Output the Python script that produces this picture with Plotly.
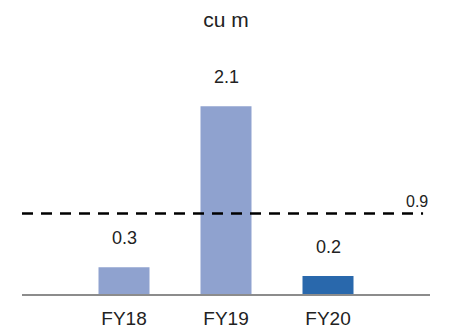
import plotly.graph_objects as go

categories = ["FY18", "FY19", "FY20"]
values = [0.3, 2.1, 0.2]
value_labels = ["0.3", "2.1", "0.2"]
bar_colors = ["#8fa2cf", "#8fa2cf", "#2968ac"]
threshold = 0.9
threshold_label = "0.9"
title_text = "cu m"

font_family = "Liberation Sans, Arial, sans-serif"

fig = go.Figure()
fig.add_trace(go.Bar(
    x=list(range(len(categories))),
    y=values,
    marker=dict(color=bar_colors, line=dict(width=0)),
    width=0.5,
    hoverinfo="skip",
))

for i, (v, t) in enumerate(zip(values, value_labels)):
    fig.add_annotation(x=i, y=v, xref="x", yref="y", text=t, showarrow=False,
                       yanchor="bottom", yshift=17,
                       font=dict(family=font_family, size=18, color="#222222"))

fig.add_shape(type="line", xref="paper", yref="y", x0=0, x1=0.983,
              y0=threshold, y1=threshold,
              line=dict(color="#000000", width=2.5, dash="11px,8px"))
fig.add_annotation(x=1, y=threshold, xref="paper", yref="y", text=threshold_label,
                   showarrow=False, xanchor="right", yanchor="bottom", yshift=2,
                   font=dict(family=font_family, size=16, color="#222222"))

fig.update_layout(
    width=452, height=332,
    margin=dict(l=22, r=22, t=40, b=38, autoexpand=False),
    paper_bgcolor="white", plot_bgcolor="white",
    showlegend=False,
    title=dict(text=title_text, x=0.5, xanchor="center", y=1 - 20 / 332,
               yanchor="middle", yref="container",
               font=dict(family=font_family, size=21, color="#222222")),
    xaxis=dict(range=[-1, 3], tickmode="array", tickvals=list(range(len(categories))),
               ticktext=categories, showgrid=False, zeroline=False,
               showline=True, linecolor="#8c8c8c", linewidth=2, ticks="",
               ticklabelstandoff=6, automargin=False,
               tickfont=dict(family=font_family, size=19, color="#222222")),
    yaxis=dict(range=[0, 2.84], visible=False, showgrid=False, zeroline=False),
)

fig.write_html("out.html", config={"displayModeBar": False},
               post_script="document.body.style.margin='0';document.body.style.overflow='hidden';")
